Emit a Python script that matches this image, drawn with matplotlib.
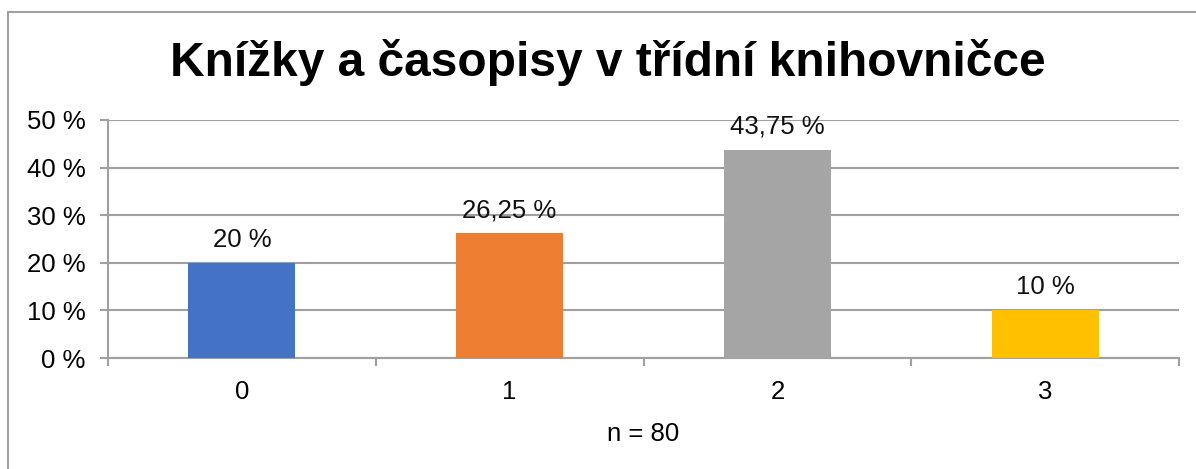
import matplotlib
matplotlib.use("Agg")
import matplotlib.pyplot as plt
from matplotlib.lines import Line2D
from matplotlib.ticker import FixedLocator

plt.rcParams['font.family'] = ['Liberation Sans', 'DejaVu Sans']

title = "Knížky a časopisy v třídní knihovničce"
categories = ["0", "1", "2", "3"]
values = [20, 26.25, 43.75, 10]
value_labels = ["20 %", "26,25 %", "43,75 %", "10 %"]
colors = ["#4472C4", "#ED7D31", "#A5A5A5", "#FFC000"]
y_ticks = [0, 10, 20, 30, 40, 50]
y_tick_labels = ["0 %", "10 %", "20 %", "30 %", "40 %", "50 %"]
xlabel = "n = 80"

FS = 18.5
W, H = 1196, 469
fig = plt.figure(figsize=(W / 100, H / 100), dpi=100)
ax = fig.add_axes([108 / W, 1 - 358 / H, (1179 - 108) / W, (358 - 120) / H])

x = list(range(len(categories)))
bars = ax.bar(x, values, width=0.4, color=colors, zorder=3)
for b, lab in zip(bars, value_labels):
    ax.annotate(lab, (b.get_x() + b.get_width() / 2, b.get_height()),
                xytext=(0, 11.5), textcoords='offset points',
                ha='center', va='baseline', fontsize=FS, color='#111111',
                annotation_clip=False)

ax.set_xlim(-0.5, len(categories) - 0.5)
ax.set_ylim(0, 50)
ax.set_yticks(y_ticks)
ax.set_yticklabels(y_tick_labels, fontsize=FS)
ax.set_xticks(x)
ax.set_xticklabels(categories, fontsize=FS)
ax.xaxis.set_minor_locator(FixedLocator([i - 0.5 for i in range(len(categories) + 1)]))
ax.tick_params(axis='x', which='major', length=0, pad=16)
ax.tick_params(axis='x', which='minor', length=6, width=1.5, color='#A0A0A0', direction='out')
ax.tick_params(axis='y', length=6, width=1.5, color='#A0A0A0', pad=10)
ax.grid(axis='y', color='#A0A0A0', linewidth=1.5, zorder=0)
for s in ['top', 'right']:
    ax.spines[s].set_visible(False)
for s in ['left', 'bottom']:
    ax.spines[s].set_color('#A0A0A0')
    ax.spines[s].set_linewidth(1.5)
ax.set_xlabel(xlabel, fontsize=FS, labelpad=13)

fig.text(608 / W, 1 - 63 / H, title, ha='center', va='center',
         fontsize=34.5, fontweight='bold')

# outer chart border (top and left visible)
fig.add_artist(Line2D([8 / W, 1], [1 - 12 / H, 1 - 12 / H], color='#A0A0A0', linewidth=1.5))
fig.add_artist(Line2D([8 / W, 8 / W], [0, 1 - 12 / H], color='#A0A0A0', linewidth=1.5))

fig.savefig("out.png", dpi=100)
